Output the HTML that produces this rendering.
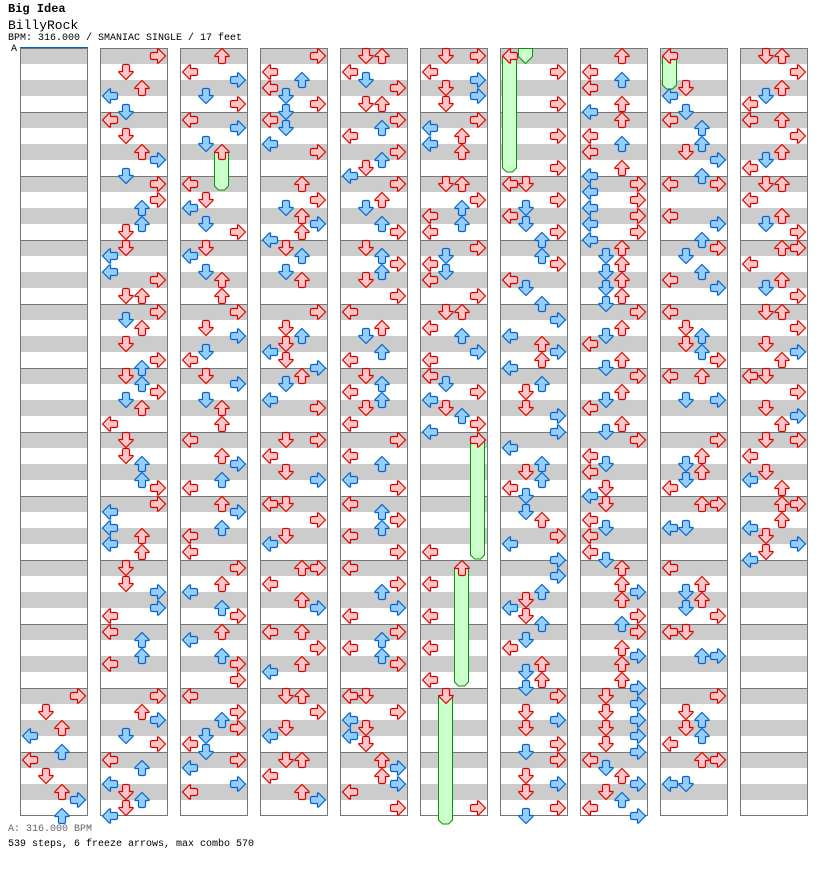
<!DOCTYPE html>
<html><head><meta charset="utf-8"><style>
body{margin:0;background:#fff;width:832px;height:876px;overflow:hidden;position:relative;font-family:"Liberation Mono",monospace}
.t{position:absolute;left:8px;white-space:pre;color:#000}
</style></head><body>
<div class="t" style="top:2px;font-size:12px;font-weight:bold">Big Idea</div>
<div class="t" style="top:18px;font-size:13px">BillyRock</div>
<div class="t" style="top:33px;font-size:10px">BPM: 316.000 / SMANIAC SINGLE / 17 feet</div>
<div class="t" style="top:824px;font-size:10px;color:#666">A: 316.000 BPM</div>
<div class="t" style="top:839px;font-size:10px">539 steps, 6 freeze arrows, max combo 570</div>
<div class="t" style="top:44px;left:11px;font-size:10px">A</div>
<svg id="s" width="832" height="876" style="position:absolute;left:0;top:0" xmlns="http://www.w3.org/2000/svg"></svg>
<script>
var D=[
"80R 82D 84U 85L 87U 88L 90D 92U 93R 95U",
"0R 2D 4U 5L 7D 8L 10D 12U 13R 15D 16R 18R 19U 21U 22D 24D 25L 27L 28R 30D 30U 32R 33D 34U 36D 38R 39U 40D 41U 42R 43D 44U 46L 48D 50D 51U 53U 54R 56R 57L 59L 60U 61L 62U 64D 66D 67R 69R 70L 72L 73U 75U 76L 80R 82U 83R 85D 86R 88L 89U 91L 92D 93U 94D 95L",
"0U 2L 3R 5D 6R 8L 9R 11D 12U 16L 18D 19L 21D 22R 24D 25L 27D 28U 30U 32R 34D 35R 37D 38L 40D 41R 43D 44U 46U 48L 50U 51R 53U 54L 56U 57R 59U 60L 62L 64R 66U 67L 69U 70R 72U 73L 75U 76R 78R 80L 82R 83U 84R 85D 86L 87D 88R 89L 91R 92L",
"0R 2L 3U 4L 5D 6R 7D 8L 9D 11L 12R 16U 18R 19D 20U 21R 22U 23L 24D 25U 27D 28U 32R 34D 35U 36D 37L 38D 39R 40U 41D 43L 44R 48D 48R 50L 52D 53R 56L 56D 58R 60D 61L 64U 64R 66L 68U 69R 72L 72U 74R 76U 77L 80D 80U 82R 84D 85L 88D 88U 90L 92U 93R",
"0D 0U 2L 3D 4R 6D 6U 8R 9U 10L 12R 13U 14D 15L 16R 18U 19D 21U 22R 24D 25U 26R 27U 28D 30R 32L 34U 35D 37U 38L 40D 41U 42L 43U 44D 46L 48R 50L 51U 53L 54R 56L 57U 58R 59U 60L 62R 64L 66R 67U 69R 70L 72R 73U 74L 75U 76R 80L 80D 82R 83L 84D 85L 86D 88U 89R 90U 91R 92L 94R",
"0D 0R 2L 3R 4D 5R 6D 8R 9L 10U 11L 12U 16D 16U 18R 19U 20L 21U 22L 24R 25D 26L 27D 28L 30R 32D 32U 34L 35U 37R 38L 40L 41D 42R 43L 44D 45U 46R 47L 48R 62L 64U 66L 70L 74L 78L 80D 94R",
"0L 2R 6R 10R 14R 16L 16D 18R 19D 20L 21D 22R 23U 25U 26R 28L 29D 31U 33R 35L 36U 37R 38U 39L 41U 42D 44D 45R 47R 49L 51U 52D 53U 54L 55D 57D 58U 60R 61L 63R 65R 67U 68D 69L 70D 71U 73D 74L 76U 77D 78U 79D 80R 82D 83R 84D 86R 87D 88R 90D 91R 92D 94R 95D",
"0U 2L 3U 4L 6U 7L 8U 10L 11U 12L 14U 15L 16R 17L 18R 19L 20R 21L 22R 23L 24U 25D 26U 27D 28U 29D 30U 31D 32R 34U 35D 36L 38U 39D 40R 42U 43D 44L 46U 47D 48R 50L 51D 52L 54D 55L 56D 58L 59D 60L 62L 63D 64U 66U 67R 68U 70R 71U 72R 74U 75R 76U 78U 79R 80D 81R 82D 83R 84D 85R 86D 87R 88L 89D 90U 91R 92D 93U 94L 95R",
"0L 4D 5L 7D 8L 9U 11U 12D 13R 15U 16L 16R 20L 21R 23U 24R 25D 27U 28L 29R 32L 34D 35U 36D 37U 38R 40L 40U 43D 43R 48R 50U 51D 52U 53D 54L 56U 56R 59L 59D 64L 66U 67D 68U 69D 70R 72L 72D 75U 75R 80R 82D 83U 84D 85U 86L 88U 88R 91L 91D",
"0D 0U 2R 4U 5D 6L 8L 8U 10R 12U 13D 14L 16D 16U 18L 20U 21D 22R 24U 24R 26L 28U 29D 30R 32D 32U 34R 36D 37R 38U 40L 40D 42R 44D 45R 46U 48D 48R 50L 52D 53L 54U 56U 56R 58U 59L 60D 61R 62D 63L"];
var F=[[3,2,152,190],[6,3,440,559],[6,2,568,686],[6,1,696,824],[7,0,56,172],[9,0,56,89]];
var h='';
for(var c=0;c<10;c++){var x=20+80*c;
 h+='<rect x="'+(x+0.5)+'" y="48.5" width="67" height="767" fill="#fff"/>';
 for(var m=0;m<12;m++){var y=48+64*m;
  h+='<rect x="'+x+'" y="'+y+'" width="68" height="16" fill="#cccccc"/><rect x="'+x+'" y="'+(y+32)+'" width="68" height="16" fill="#cccccc"/>';
  if(m>0)h+='<line x1="'+x+'" x2="'+(x+68)+'" y1="'+(y+0.5)+'" y2="'+(y+0.5)+'" stroke="#777"/>';}
 h+='<rect x="'+(x+0.5)+'" y="48.5" width="67" height="767" fill="none" stroke="#777"/>';}
h+='<line x1="20" x2="88" y1="47.5" y2="47.5" stroke="#06c"/>';
F.forEach(function(f){var x=20+80*(f[0]-1)+2+16*f[1]+0.5;
 h+='<path d="M'+x+' '+f[2]+' h14 v'+(f[3]-f[2]-4)+' l-4 4 h-6 l-4 -4 Z" fill="#ccffcc" stroke="#009900"/>';});
var tx=20+80*6+2+16+0.5;
h+='<path d="M'+tx+' 48.5 h14 v8 l-7 7 l-7 -7 Z" fill="#ccffcc" stroke="#009900"/>';
var rot={L:0,D:-90,U:90,R:180},li={L:0,D:1,U:2,R:3};
var P='M0.5 8 L7.5 1 L8.5 1 L8.5 4.5 L14.5 4.5 L15.5 5.5 L15.5 10.5 L14.5 11.5 L8.5 11.5 L8.5 15 L7.5 15 Z';
D.forEach(function(s,c){s.split(' ').forEach(function(t){var k=parseInt(t),l=t.slice(-1);
 var x=20+80*c+2+16*li[l],y=48+8*k,red=k%2==0;
 h+='<g transform="translate('+x+','+y+') rotate('+rot[l]+',8,8)"><path d="'+P+'" fill="'+(red?'#ffc8c8':'#99ccff')+'" stroke="'+(red?'#dd0000':'#0066cc')+'" stroke-width="1.2"/></g>';});});
document.getElementById('s').innerHTML=h;
</script>
</body></html>
